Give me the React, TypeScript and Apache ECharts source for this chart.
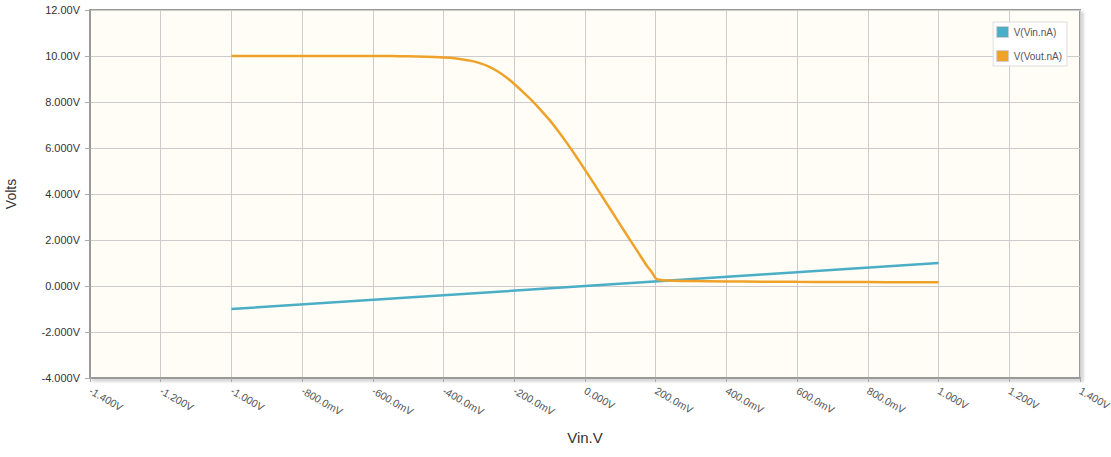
import React, { useEffect, useRef } from "react";
import * as echarts from "echarts";

const seriesNames = ["V(Vin.nA)", "V(Vout.nA)"];
const vinX = [-1.0, -0.5, 0.0, 0.5, 1.0];
const vinY = [-1.0, -0.5, 0.0, 0.5, 1.0];
const voutX = [
  -1.0, -0.8, -0.6, -0.55, -0.5, -0.45, -0.425, -0.4, -0.375, -0.35, -0.325, -0.3, -0.275, -0.25,
  -0.225, -0.2, -0.175, -0.15, -0.125, -0.1, -0.075, -0.05, -0.025, 0.0, 0.025, 0.05, 0.075, 0.1,
  0.125, 0.15, 0.175, 0.19, 0.2, 0.21, 0.22, 0.25, 0.3, 0.4, 0.5, 0.6, 0.7, 0.8, 0.9, 1.0,
];
const voutY = [
  10.0, 10.0, 10.0, 9.995, 9.985, 9.97, 9.96, 9.94, 9.91, 9.86, 9.8, 9.7, 9.56, 9.36,
  9.1, 8.78, 8.43, 8.06, 7.65, 7.21, 6.72, 6.19, 5.63, 5.05, 4.46, 3.86, 3.26, 2.66,
  2.06, 1.47, 0.88, 0.58, 0.33, 0.27, 0.25, 0.23, 0.22, 0.2, 0.19, 0.18, 0.175, 0.17, 0.165, 0.16,
];
const xTickValues = [-1.4, -1.2, -1.0, -0.8, -0.6, -0.4, -0.2, 0, 0.2, 0.4, 0.6, 0.8, 1.0, 1.2, 1.4];
const xTickLabels = [
  "-1.400V", "-1.200V", "-1.000V", "-800.0mV", "-600.0mV", "-400.0mV", "-200.0mV", "0.000V",
  "200.0mV", "400.0mV", "600.0mV", "800.0mV", "1.000V", "1.200V", "1.400V",
];
const yTickValues = [-4, -2, 0, 2, 4, 6, 8, 10, 12];
const yTickLabels = ["-4.000V", "-2.000V", "0.000V", "2.000V", "4.000V", "6.000V", "8.000V", "10.00V", "12.00V"];

const colors = ["#4aaec6", "#efa22a"];
const font = "Arial, 'Liberation Sans', sans-serif";

function lookup(values: number[], labels: string[], v: number) {
  let best = 0;
  let bd = Infinity;
  values.forEach((t, i) => {
    const d = Math.abs(t - v);
    if (d < bd) {
      bd = d;
      best = i;
    }
  });
  return labels[best];
}

export default function App() {
  const ref = useRef<HTMLDivElement>(null);
  useEffect(() => {
    document.body.style.margin = "0";
    const chart = echarts.init(ref.current!, undefined, { renderer: "svg" });
    chart.setOption({
      animation: false,
      color: colors,
      grid: {
        left: 90,
        right: 31,
        top: 10,
        bottom: 79,
        outerBoundsMode: "none",
        containLabel: false,
        show: true,
        backgroundColor: "#fffdf5",
        borderColor: "#9a9a9a",
        borderWidth: 2,
        shadowColor: "rgba(0,0,0,0.15)",
        shadowBlur: 2,
        shadowOffsetX: 3,
        shadowOffsetY: 3,
      },
      legend: {
        orient: "vertical",
        right: 44,
        top: 22,
        padding: [4, 5, 4, 3],
        itemWidth: 12,
        itemHeight: 11,
        itemGap: 12,
        backgroundColor: "#ffffff",
        borderColor: "#dddddd",
        borderWidth: 1,
        icon: "rect",
        data: seriesNames,
        itemStyle: { borderColor: "#d0d0d0", borderWidth: 1 },
        textStyle: { fontSize: 10, color: "#555", fontFamily: font, padding: [0, 0, 8, 0] },
      },
      xAxis: {
        type: "value",
        min: -1.4,
        max: 1.4,
        interval: 0.2,
        name: "Vin.V",
        nameLocation: "middle",
        nameGap: 52,
        nameTextStyle: { fontSize: 15, color: "#333", fontFamily: font },
        axisLine: { show: true, onZero: false, lineStyle: { color: "#9a9a9a", width: 2 } },
        axisTick: { show: true, length: 4, lineStyle: { color: "#aaa", width: 1 } },
        splitLine: { show: true, lineStyle: { color: "#cccccc", width: 1 } },
        axisLabel: {
          rotate: -30,
          margin: 12,
          fontSize: 10.5,
          color: "#555",
          fontFamily: font,
          formatter: (v: number) => lookup(xTickValues, xTickLabels, v),
        },
      },
      yAxis: {
        type: "value",
        min: -4,
        max: 12,
        interval: 2,
        name: "Volts",
        nameLocation: "middle",
        nameGap: 72,
        nameRotate: 90,
        nameTextStyle: { fontSize: 14, color: "#333", fontFamily: font },
        axisLine: { show: true, onZero: false, lineStyle: { color: "#9a9a9a", width: 2 } },
        axisTick: { show: true, length: 5, lineStyle: { color: "#aaa", width: 1 } },
        splitLine: { show: true, lineStyle: { color: "#cccccc", width: 1 } },
        axisLabel: {
          margin: 10,
          fontSize: 11,
          color: "#333",
          fontFamily: font,
          padding: [0, 0, 9, 0],
          formatter: (v: number) => lookup(yTickValues, yTickLabels, v),
        },
      },
      series: [
        {
          name: seriesNames[0],
          type: "line",
          showSymbol: false,
          lineStyle: { width: 2.5, color: colors[0] },
          data: vinX.map((x, i) => [x, vinY[i]]),
        },
        {
          name: seriesNames[1],
          type: "line",
          showSymbol: false,
          smooth: 0.3,
          lineStyle: { width: 2.5, color: colors[1] },
          data: voutX.map((x, i) => [x, voutY[i]]),
        },
      ],
    });
    return () => chart.dispose();
  }, []);
  return <div ref={ref} style={{ width: 1111, height: 457 }} />;
}
